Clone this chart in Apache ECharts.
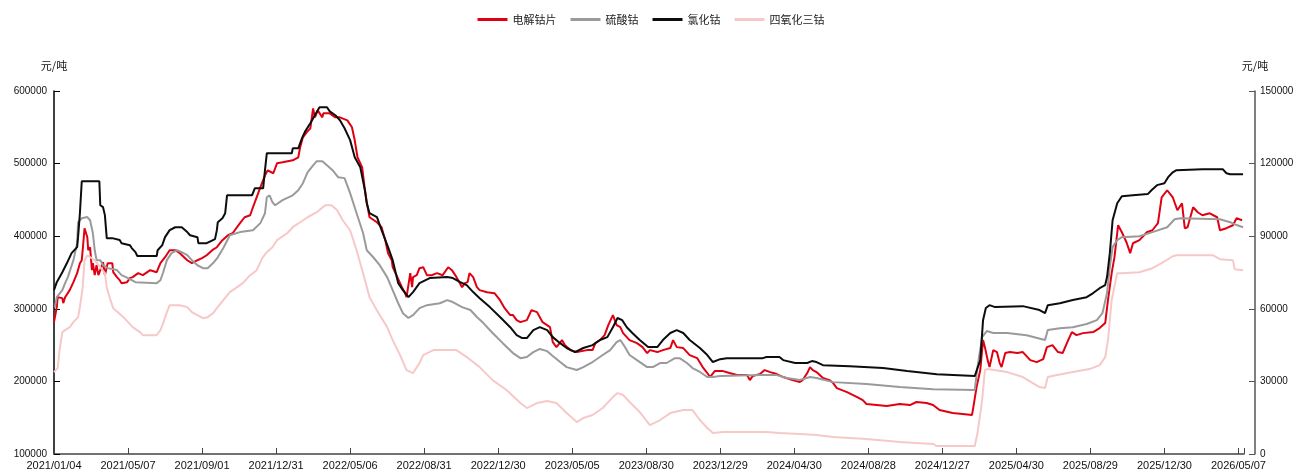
<!DOCTYPE html>
<html>
<head>
<meta charset="utf-8">
<script src="https://cdn.jsdelivr.net/npm/echarts@6/dist/echarts.min.js"></script>
<style>
  html, body { margin: 0; padding: 0; background: #fff; }
  #chart { width: 1302px; height: 474px; }
</style>
</head>
<body>
<div id="chart"></div>
<script>
// x = trading-day index counted from 2021/01/04; tick labels every 80 trading days
const tickLabels = ['2021/01/04', '2021/05/07', '2021/09/01', '2021/12/31', '2022/05/06', '2022/08/31',
  '2022/12/30', '2023/05/05', '2023/08/30', '2023/12/29', '2024/04/30', '2024/08/28',
  '2024/12/27', '2025/04/30', '2025/08/29', '2025/12/30', '2026/05/07'];
const labelStep = 80;
const lastDay = 1286;

const seriesNames = ['电解钴片', '硫酸钴', '氯化钴', '四氧化三钴'];

// 电解钴片 (元/吨, left axis)
const cobaltCathode = [
  [0, 281600], [3, 302300], [4, 316000], [9, 314700], [10, 307800], [12, 316000], [17, 325700],
  [21, 336700], [25, 349100], [28, 362800], [30, 366900], [31, 380700], [33, 411000], [36, 398600],
  [37, 380700], [39, 384800], [41, 353200], [42, 362800], [44, 346300], [46, 360100], [48, 346300],
  [50, 353200], [53, 364200], [55, 346300], [58, 362800], [63, 362800], [64, 350400], [68, 343600],
  [71, 339400], [73, 335300], [79, 336700], [82, 342200], [85, 343600], [91, 349100], [96, 346300],
  [104, 353200], [111, 350400], [115, 362800], [120, 371100], [125, 380700], [131, 380700],
  [136, 376600], [144, 366900], [149, 362800], [155, 366900], [160, 369700], [165, 373800],
  [171, 380700], [176, 384800], [182, 394500], [188, 401300], [193, 404100], [201, 417900],
  [206, 426100], [212, 428900], [215, 439900], [219, 453600], [223, 467400], [228, 483900],
  [231, 490800], [237, 486700], [241, 500400], [247, 501800], [258, 504500], [264, 508700],
  [266, 522400], [269, 536200], [273, 543100], [277, 548600], [280, 576100], [282, 563700],
  [285, 573300], [290, 563700], [291, 569200], [298, 569200], [304, 563700], [309, 563700],
  [317, 559600], [322, 550000], [325, 532100], [328, 508700], [333, 494900], [336, 463300],
  [338, 446800], [341, 426100], [349, 419200], [354, 412400], [358, 394500], [361, 376600],
  [365, 366900], [366, 357300], [371, 343600], [376, 329800], [379, 322900], [381, 316000],
  [383, 314700], [385, 349100], [387, 329800], [388, 343600], [392, 346300], [395, 355900],
  [399, 357300], [403, 346300], [408, 346300], [414, 349100], [420, 346300], [426, 357300],
  [430, 353200], [435, 343600], [441, 329800], [444, 335300], [447, 336700], [449, 349100],
  [453, 343600], [457, 329800], [460, 325700], [468, 322900], [476, 321500], [482, 311900],
  [487, 300900], [493, 291300], [496, 291300], [500, 284400], [504, 281600], [511, 284400],
  [516, 298100], [522, 295400], [528, 281600], [536, 274800], [539, 254100], [543, 247200],
  [549, 256900], [552, 250000], [558, 243100], [565, 240400], [576, 243100], [582, 243100],
  [585, 252700], [590, 256900], [595, 263700], [599, 277500], [603, 288500], [604, 291300],
  [608, 277500], [612, 274800], [615, 266500], [622, 256900], [630, 252700], [636, 247200],
  [641, 239000], [644, 243100], [652, 240400], [658, 243100], [666, 245900], [669, 256900],
  [673, 247200], [680, 245900], [687, 236200], [695, 232100], [701, 219700], [706, 211500],
  [709, 206000], [714, 214200], [723, 214200], [730, 211500], [738, 208700], [749, 208700],
  [752, 201800], [755, 207300], [763, 210100], [768, 215600], [774, 212800], [781, 210100],
  [788, 206000], [798, 201800], [806, 199100], [809, 201800], [814, 211500], [817, 219700],
  [820, 215600], [824, 212800], [831, 204600], [838, 201800], [842, 197700], [846, 190800],
  [857, 185300], [868, 178400], [874, 174300], [878, 168800], [889, 167400], [900, 166000],
  [914, 168800], [925, 167400], [932, 171600], [943, 170200], [950, 167400], [957, 160500],
  [971, 156400], [982, 155000], [992, 153700], [993, 160500], [997, 192200], [1001, 215600],
  [1004, 256900], [1006, 247200], [1009, 229300], [1011, 219700], [1015, 243100], [1019, 240400],
  [1022, 225200], [1024, 219700], [1028, 239000], [1033, 240400], [1041, 239000], [1047, 240400],
  [1055, 229300], [1062, 226600], [1069, 230700], [1073, 247200], [1079, 250000], [1085, 240400],
  [1090, 239000], [1096, 256900], [1100, 267900], [1105, 263700], [1112, 266500], [1123, 267900],
  [1130, 273400], [1136, 280300], [1139, 311900], [1143, 349100], [1146, 371100], [1150, 415100],
  [1154, 405500], [1159, 391700], [1163, 376600], [1166, 390300], [1173, 394500], [1181, 405500],
  [1187, 408200], [1193, 417900], [1197, 453600], [1203, 463300], [1209, 453600], [1214, 435700],
  [1219, 445400], [1222, 411000], [1225, 412400], [1231, 439900], [1236, 433000], [1241, 428900],
  [1249, 431600], [1257, 426100], [1260, 408200], [1267, 411000], [1274, 415100], [1278, 424700],
  [1284, 422000]
];

// 硫酸钴 (元/吨, right axis)
const cobaltSulfate = [
  [1, 60700], [3, 64800], [9, 67700], [12, 70600], [15, 73100], [21, 80100], [25, 87100],
  [26, 95800], [30, 97400], [36, 97900], [39, 96600], [42, 91300], [44, 84200], [46, 80100],
  [50, 80100], [53, 78000], [58, 76800], [68, 76000], [73, 73900], [80, 72700], [88, 71000],
  [90, 70600], [111, 70600], [115, 71800], [118, 75100], [122, 80100], [127, 83000], [133, 84200],
  [138, 83400], [144, 82200], [149, 80100], [155, 78000], [161, 76800], [166, 76800], [172, 78900],
  [177, 81300], [183, 85100], [190, 90400], [201, 91700], [215, 92500], [223, 95400], [228, 99500],
  [230, 106100], [233, 106900], [236, 104100], [239, 102800], [247, 104900], [258, 106900],
  [264, 109000], [269, 111900], [274, 116400], [280, 119300], [284, 121000], [290, 121000],
  [295, 119300], [301, 117300], [307, 114400], [314, 114000], [320, 107800], [327, 99500],
  [334, 91300], [338, 84200], [345, 81300], [352, 78000], [360, 73100], [366, 67700], [372, 62300],
  [377, 58200], [383, 56200], [388, 57400], [395, 60300], [403, 61500], [417, 62300], [425, 63600],
  [431, 62800], [441, 60700], [450, 59500], [457, 56600], [464, 54100], [474, 50000], [485, 45800],
  [496, 41700], [504, 39600], [511, 40100], [518, 42100], [525, 43400], [533, 42500], [539, 40500],
  [547, 38000], [554, 35900], [565, 34700], [572, 35900], [582, 38000], [593, 40900], [601, 42900],
  [608, 46200], [612, 47100], [617, 44200], [622, 40900], [630, 38800], [641, 35900], [647, 35900],
  [655, 37600], [662, 37600], [671, 39600], [676, 39600], [684, 37600], [690, 35500], [698, 33900],
  [706, 31800], [712, 31800], [720, 32200], [763, 32600], [781, 32600], [792, 31400], [806, 30600],
  [817, 31800], [824, 31400], [842, 29700], [878, 28900], [914, 27700], [950, 26800], [995, 26400],
  [998, 35900], [1003, 48300], [1008, 50800], [1015, 50000], [1030, 50000], [1051, 49100],
  [1071, 47100], [1074, 51200], [1087, 52000], [1101, 52400], [1116, 53700], [1127, 55300],
  [1133, 58200], [1138, 66500], [1141, 77200], [1144, 85500], [1149, 88400], [1154, 89600],
  [1173, 90000], [1187, 91700], [1203, 93700], [1211, 97000], [1217, 97400], [1260, 97000],
  [1271, 95800], [1278, 94600], [1285, 93700]
];

// 氯化钴 (元/吨, right axis)
const cobaltChloride = [
  [0, 67700], [3, 71000], [9, 75100], [14, 78900], [19, 83000], [25, 85500], [26, 89600],
  [28, 99500], [30, 112700], [49, 112700], [50, 102800], [53, 102000], [55, 98700], [57, 89200],
  [63, 89200], [71, 88400], [73, 87100], [82, 86300], [84, 85100], [88, 83400], [90, 81800],
  [111, 81800], [112, 84200], [117, 86300], [120, 89600], [125, 92500], [131, 93700], [138, 93700],
  [144, 91700], [147, 90400], [155, 89600], [156, 87100], [165, 87100], [169, 87900], [174, 88800],
  [176, 92500], [177, 95800], [182, 97400], [185, 99500], [187, 106900], [214, 106900],
  [217, 109800], [226, 109800], [228, 117300], [230, 124300], [257, 124300], [258, 126300],
  [264, 126300], [268, 130500], [271, 133000], [277, 136700], [282, 140000], [285, 142000],
  [287, 143300], [295, 143300], [298, 141600], [304, 140000], [309, 137900], [314, 134600],
  [320, 129700], [325, 122600], [331, 118500], [336, 109000], [338, 103600], [341, 99500],
  [349, 97900], [354, 92500], [361, 85500], [366, 80100], [372, 70600], [377, 67700], [383, 64800],
  [388, 66900], [395, 70600], [406, 72700], [425, 73100], [431, 72700], [439, 71000], [446, 69800],
  [453, 66900], [460, 64400], [471, 60700], [482, 56600], [493, 52400], [500, 49100], [506, 47900],
  [511, 47900], [518, 51200], [525, 52400], [533, 51200], [539, 48300], [547, 45800], [554, 43800],
  [563, 42100], [572, 43800], [582, 45000], [590, 47100], [598, 48300], [604, 52400], [609, 56200],
  [614, 55300], [619, 52400], [625, 50000], [633, 47100], [642, 44200], [652, 44200], [658, 47100],
  [666, 50000], [673, 51200], [680, 50000], [687, 47100], [698, 43800], [706, 40900], [712, 38000],
  [720, 39200], [727, 39600], [766, 39600], [770, 40100], [784, 40100], [788, 38800], [801, 37600],
  [814, 37600], [819, 38400], [824, 38000], [831, 36700], [860, 36300], [896, 35500], [922, 34300],
  [954, 33000], [995, 32200], [1001, 38800], [1004, 55300], [1007, 60300], [1011, 61500],
  [1017, 60700], [1047, 61100], [1065, 59500], [1071, 58200], [1074, 61500], [1087, 62300],
  [1101, 63600], [1116, 64800], [1123, 66500], [1130, 68500], [1136, 69800], [1138, 73100],
  [1141, 83000], [1144, 96600], [1149, 103600], [1154, 106500], [1166, 106900], [1182, 107400],
  [1186, 109000], [1192, 111100], [1200, 111900], [1204, 114400], [1209, 116400], [1213, 117300],
  [1241, 117700], [1263, 117700], [1267, 116000], [1271, 115600], [1285, 115600]
];

// 四氧化三钴 (元/吨, left axis)
const cobaltOxide = [
  [0, 212800], [4, 218300], [6, 243100], [9, 267900], [12, 270600], [17, 274800], [21, 281600],
  [26, 288500], [28, 302300], [31, 329800], [33, 366900], [36, 373800], [39, 371100], [44, 366900],
  [50, 357300], [55, 349100], [57, 329800], [61, 311900], [64, 300900], [69, 295400], [75, 288500],
  [80, 281600], [85, 274800], [93, 267900], [96, 263700], [111, 263700], [115, 270600],
  [118, 280300], [122, 295400], [125, 305000], [136, 305000], [144, 302300], [149, 295400],
  [155, 291300], [161, 287100], [166, 288500], [172, 294000], [176, 300900], [183, 311900],
  [190, 322900], [198, 329800], [204, 335300], [212, 346300], [219, 353200], [225, 369700],
  [230, 378000], [236, 384800], [241, 394500], [252, 404100], [258, 412400], [266, 419200],
  [274, 426100], [284, 433000], [293, 442600], [300, 442600], [306, 435700], [312, 422000],
  [320, 408200], [327, 380700], [334, 349100], [341, 316000], [347, 302300], [352, 291300],
  [360, 274800], [366, 256900], [374, 236200], [381, 215600], [388, 211500], [395, 225200],
  [399, 236200], [410, 243100], [435, 243100], [446, 233500], [460, 219700], [474, 201800],
  [489, 188100], [504, 170200], [511, 163300], [522, 170200], [533, 172900], [543, 170200],
  [554, 156400], [565, 144000], [572, 149500], [582, 153700], [593, 163300], [604, 178400],
  [609, 183900], [615, 181200], [622, 171600], [633, 157800], [644, 139900], [655, 146800],
  [666, 156400], [680, 160500], [690, 160500], [698, 146800], [706, 135800], [712, 128900],
  [723, 130300], [770, 130300], [784, 128900], [806, 127500], [824, 126100], [842, 123400],
  [878, 120600], [914, 116500], [950, 113800], [954, 111000], [995, 111000], [998, 128900],
  [1003, 174300], [1006, 215600], [1009, 217000], [1030, 212800], [1047, 206000], [1065, 192200],
  [1071, 190800], [1074, 206000], [1084, 208700], [1101, 212800], [1119, 217000], [1130, 222500],
  [1136, 233500], [1139, 256900], [1143, 311900], [1149, 349100], [1154, 349100], [1173, 350400],
  [1187, 355900], [1197, 362800], [1209, 372400], [1213, 373800], [1252, 373800], [1260, 368300],
  [1274, 367000], [1276, 354600], [1285, 353200]
];

const colors = ['#e00012', '#9a9a9a', '#0d0d0d', '#f6c8c8'];
const labelTicks = tickLabels.map((_, i) => i * labelStep);
const tickMarks = labelTicks.concat([lastDay]);

const fontFamily = '"Liberation Sans", "Noto Sans CJK SC", sans-serif';
const cjkFont = '"Noto Sans CJK SC", sans-serif';
const plainNumber = v => String(v);

const chart = echarts.init(document.getElementById('chart'), null, { renderer: 'canvas' });

function lineSeries(name, data, yAxisIndex, color) {
  return {
    name, type: 'line', data, yAxisIndex,
    symbol: 'none', smooth: false,
    lineStyle: { color, width: 2 },
    itemStyle: { color },
    animation: false
  };
}

chart.setOption({
  animation: false,
  color: colors,
  textStyle: { fontFamily },
  legend: {
    data: seriesNames,
    top: 9,
    left: 'center',
    icon: 'rect',
    itemWidth: 30,
    itemHeight: 3,
    itemGap: 14,
    textStyle: { fontSize: 11, color: '#222', fontFamily: cjkFont }
  },
  grid: { left: 54, right: 58, top: 91, bottom: 20, containLabel: false },
  xAxis: {
    type: 'value',
    min: 0,
    max: lastDay,
    splitLine: { show: false },
    axisLine: { show: true, lineStyle: { color: '#444', width: 1.5 } },
    axisTick: { show: true, inside: true, length: 6, customValues: tickMarks, lineStyle: { color: '#444' } },
    axisLabel: {
      customValues: labelTicks,
      formatter: v => tickLabels[Math.round(v / labelStep)] || '',
      fontSize: 11, color: '#111', margin: 6, hideOverlap: false,
      showMinLabel: true, showMaxLabel: true
    }
  },
  yAxis: [
    {
      type: 'value', min: 100000, max: 600000, interval: 100000,
      name: '元/吨', nameLocation: 'end', nameGap: 20,
      nameTextStyle: { fontSize: 11, color: '#111', fontFamily: cjkFont, align: 'center' },
      splitLine: { show: false },
      axisLine: { show: true, lineStyle: { color: '#000', width: 1.5 } },
      axisTick: { show: true, inside: true, length: 6, lineStyle: { color: '#000' } },
      axisLabel: { fontSize: 10, color: '#111', margin: 7, formatter: plainNumber }
    },
    {
      type: 'value', min: 0, max: 150000, interval: 30000,
      position: 'right', offset: 11,
      name: '元/吨', nameLocation: 'end', nameGap: 20,
      nameTextStyle: { fontSize: 11, color: '#111', fontFamily: cjkFont, align: 'center' },
      splitLine: { show: false },
      axisLine: { show: true, lineStyle: { color: '#555', width: 1.5 } },
      axisTick: { show: true, inside: true, length: 6, lineStyle: { color: '#555' } },
      axisLabel: { fontSize: 10, color: '#111', margin: 5, formatter: plainNumber }
    }
  ],
  series: [
    lineSeries(seriesNames[0], cobaltCathode, 0, colors[0]),
    lineSeries(seriesNames[1], cobaltSulfate, 1, colors[1]),
    lineSeries(seriesNames[2], cobaltChloride, 1, colors[2]),
    lineSeries(seriesNames[3], cobaltOxide, 0, colors[3])
  ]
});
</script>
</body>
</html>
